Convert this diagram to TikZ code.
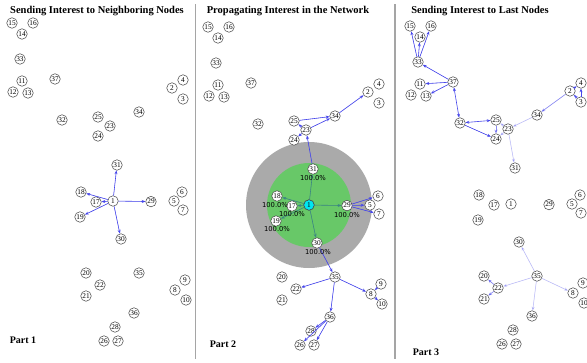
\documentclass[tikz,border=0pt]{standalone}
\usepackage{fontspec}
\setmainfont{Liberation Serif}
\newfontfamily\pctfont{DejaVu Sans}
\usetikzlibrary{arrows.meta}
\definecolor{edgeblue}{RGB}{70,70,235}
\definecolor{inneredge}{RGB}{60,135,130}
\definecolor{ringgray}{RGB}{170,170,170}
\definecolor{ringgreen}{RGB}{104,200,104}
\definecolor{nodecyan}{RGB}{0,230,240}
\definecolor{sepgray}{RGB}{165,165,165}
\def\nodelist{1/113/201, 2/172/88, 3/183/99, 4/183/80, 5/174/201, 6/182/192, 7/183/210,
 8/175/290, 9/185/280, 10/186/300, 11/22/81, 12/13/92, 13/28/93, 14/22/34, 15/12/23,
 16/33/23, 17/96/202, 18/81/192, 19/80/217, 20/86/273, 21/86/296, 22/100/285,
 23/110/126, 24/98/136, 25/98/117, 26/104/341, 27/118/341, 28/115/327, 29/151/201.6,
 30/121/239, 31/117/165, 32/62/120, 33/20/59, 34/139/112, 35/139/273, 36/134/313, 37/55/79}
\begin{document}
\begin{tikzpicture}[x=1pt,y=-1pt,
  nd/.style={circle,draw=black!75,fill=white,line width=0.5pt,inner sep=0pt,
    minimum size=10.5pt,font=\fontsize{7.3}{7.3}\selectfont},
  ed/.style={draw=edgeblue,fill=edgeblue,line width=0.6pt,-{Stealth[length=3.8pt,width=3pt]}},
  ded/.style={draw=edgeblue,line width=0.6pt,{Stealth[length=3.8pt,width=3pt]}-{Stealth[length=3.8pt,width=3pt]}},
  ied/.style={ed,draw=inneredge,fill=inneredge},
  title/.style={font=\bfseries\fontsize{10.5}{12}\selectfont,inner sep=0pt},
  part/.style={font=\bfseries\fontsize{10}{12}\selectfont,inner sep=0pt},
  pct/.style={font=\pctfont\fontsize{6.8}{7}\selectfont,inner sep=0pt},
  sep/.style={draw=sepgray,line width=1.8pt}]
\useasboundingbox (0,0) rectangle (587,362);
\fill[white] (0,0) rectangle (587,362);
% separators
\draw[sep] (195.5,4) -- (195.5,359);
\draw[sep] (395,4) -- (395,359);
% titles
\node[title] (t1) at (97,11) {Sending Interest to Neighboring Nodes};
\node[title] (t2) at (288,11) {Propagating Interest in the Network};
\node[title] (t3) at (480,11) {Sending Interest to Last Nodes};
\node[part] (p1) at (23,340) {Part 1};
\node[part] (p2) at (223,344) {Part 2};
\node[part] (p3) at (426,352) {Part 3};
% ---------- panel 1
\begin{scope}
  \foreach \n/\x/\y in \nodelist {\node[nd] (a\n) at (\x,\y) {\n};}
  \foreach \tg in {31,18,17,19,29,30} {\draw[ed] (a1) -- (a\tg);}
\end{scope}
% ---------- panel 2
\begin{scope}[shift={(196,4)}]
  \fill[ringgray] (113,201) circle[radius=63];
  \fill[ringgreen] (113,201) circle[radius=42];
  \foreach \n/\x/\y in \nodelist {\node[nd] (b\n) at (\x,\y) {\n};}
  \node[nd,fill=nodecyan] (b1x) at (b1) {1};
  \foreach \tg in {31,18,17,19,29,30} {\draw[ied] (b1x) -- (b\tg);}
  \foreach \s/\tg in {31/23,23/25,23/24,23/34,25/34,34/2,29/6,29/5,29/7,
     30/35,35/22,35/8,35/36,9/8,8/10,36/28,36/26,36/27} {\draw[ed] (b\s) -- (b\tg);}
  \node[pct] (l31) at ([yshift=-9pt]b31) {100.0\%};
  \node[pct] (l18) at ([xshift=-2pt,yshift=-9pt]b18) {100.0\%};
  \node[pct] (l17) at ([yshift=-8.5pt]b17) {100.0\%};
  \node[pct] (l19) at ([xshift=1pt,yshift=-8.5pt]b19) {100.0\%};
  \node[pct] (l29) at ([yshift=-9pt]b29) {100.0\%};
  \node[pct] (l30) at ([xshift=1pt,yshift=-9.5pt]b30) {100.0\%};
\end{scope}
% ---------- panel 3
\begin{scope}[shift={(398,3)}]
  \foreach \n/\x/\y in \nodelist {\node[nd] (c\n) at (\x,\y) {\n};}
  \foreach \s/\tg in {37/33,33/15,33/14,33/16,37/11,37/13,32/24,2/4,3/4,3/2}
    {\draw[ed] (c\s) -- (c\tg);}
  \draw[ded] (c37) -- (c32);
  \draw[ded] (c32) -- (c25);
  \foreach \s/\tg in {2/34,22/20,22/21,25/24}
    {\draw[ed,draw opacity=0.6,fill opacity=0.6] (c\s) -- (c\tg);}
  \foreach \s/\tg in {34/23,23/25,23/24,23/31,35/30,35/22,35/8,35/36}
    {\draw[ed,draw opacity=0.3,fill opacity=0.3] (c\s) -- (c\tg);}
\end{scope}
\end{tikzpicture}
\end{document}
